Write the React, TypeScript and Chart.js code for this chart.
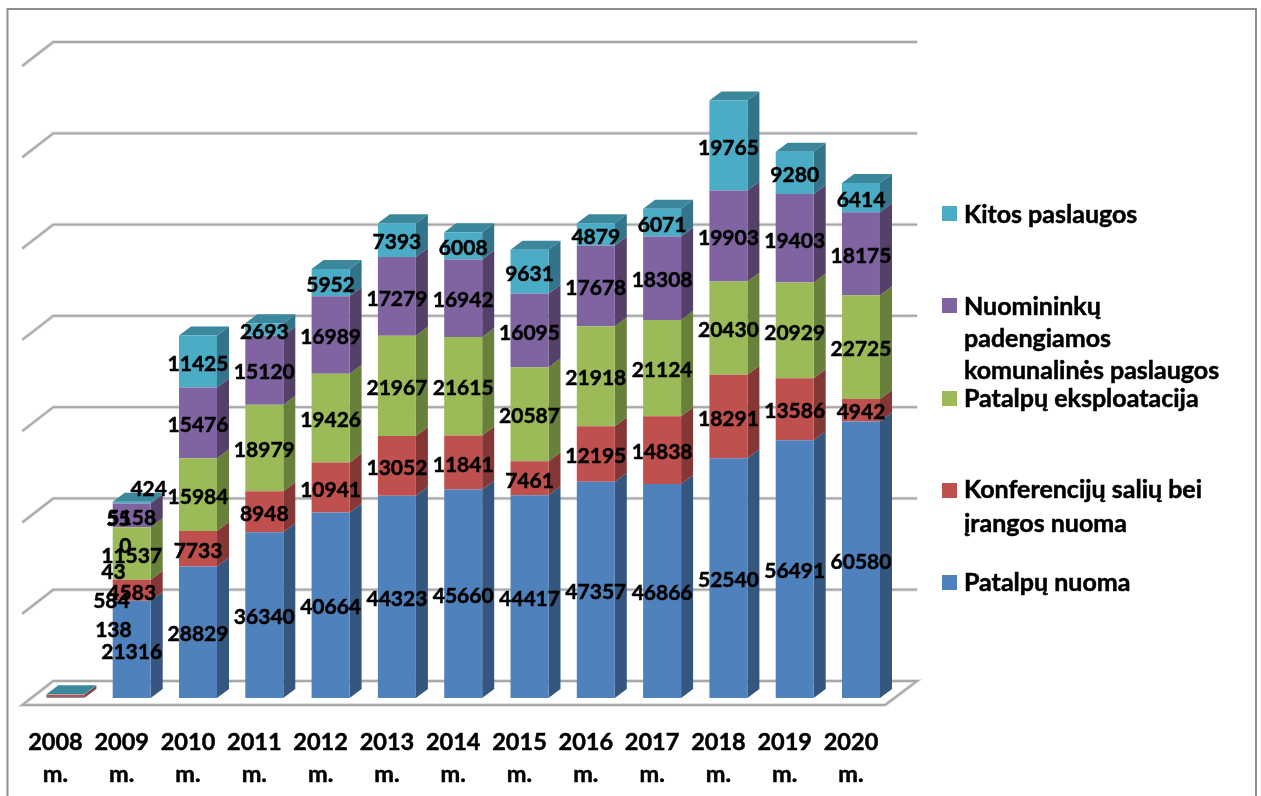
import React, { useEffect, useRef } from "react";
import { Chart, registerables } from "chart.js";

Chart.register(...registerables);

const years = ["2008", "2009", "2010", "2011", "2012", "2013", "2014", "2015", "2016", "2017", "2018", "2019", "2020"];
const tickLabels = years.map((y) => [y, "m."]);

const patalpuNuoma = [138, 21316, 28829, 36340, 40664, 44323, 45660, 44417, 47357, 46866, 52540, 56491, 60580];
const konferenciju = [584, 4583, 7733, 8948, 10941, 13052, 11841, 7461, 12195, 14838, 18291, 13586, 4942];
const eksploatacija = [43, 11537, 15984, 18979, 19426, 21967, 21615, 20587, 21918, 21124, 20430, 20929, 22725];
const komunalines = [0, 5158, 15476, 15120, 16989, 17279, 16942, 16095, 17678, 18308, 19903, 19403, 18175];
const kitos = [55, 424, 11425, 2693, 5952, 7393, 6008, 9631, 4879, 6071, 19765, 9280, 6414];

const seriesNames = [
  "Patalpų nuoma",
  "Konferencijų salių bei įrangos nuoma",
  "Patalpų eksploatacija",
  "Nuomininkų padengiamos komunalinės paslaugos",
  "Kitos paslaugos",
];
const seriesValues = [patalpuNuoma, konferenciju, eksploatacija, komunalines, kitos];
const frontColors = ["#4F81BD", "#C0504D", "#9BBB59", "#8064A2", "#4BACC6"];
const sideColors = ["#34567F", "#843735", "#67803A", "#544069", "#33748A"];
const topColor = "#3B879C";

const legendEntries = [
  { series: 4, box: 206, lines: [["Kitos paslaugos", 215]] },
  { series: 3, box: 298, lines: [["Nuomininkų", 307], ["padengiamos", 339], ["komunalinės paslaugos", 371]] },
  { series: 2, box: 391, lines: [["Patalpų eksploatacija", 399]] },
  { series: 1, box: 483, lines: [["Konferencijų salių bei", 490], ["įrangos nuoma", 524]] },
  { series: 0, box: 575, lines: [["Patalpų nuoma", 583]] },
] as const;

const FONT = "Lato, Carlito, 'Open Sans', sans-serif";
const DX = 12;
const DY = 9;
const GRID_STEP = 20000;
const AXIS_MAX = 140000;

// Label nudges [dx, dy] keyed by "series:category" for the hand-moved labels of the source.
const labelShifts: Record<string, [number, number]> = {
  "0:0": [48, -70],
  "1:0": [46, -97],
  "2:0": [48, -125],
  "3:0": [60, -151],
  "4:0": [53, -178],
  "4:1": [17, -16],
};

const scene = {
  id: "scene",
  beforeDraw(chart: any) {
    const { ctx, chartArea, scales } = chart;
    const y = scales.y;
    const fl = chartArea.left - 10;
    const fr = chartArea.right - 9;
    const bl = chartArea.left + 21;
    const br = chartArea.right + 23;
    ctx.save();
    ctx.fillStyle = "#ffffff";
    ctx.fillRect(0, 0, chart.width, chart.height);

    // outer frame
    ctx.strokeStyle = "#8E8E8E";
    ctx.lineWidth = 2;
    ctx.beginPath();
    ctx.moveTo(7.5, chart.height);
    ctx.lineTo(7.5, 9);
    ctx.lineTo(1256, 9);
    ctx.lineTo(1256, chart.height);
    ctx.stroke();

    // wall grid
    const strokeLine = (pts: number[][]) => {
      for (const [w, c] of [[3.5, "#DADADA"], [1.8, "#A8A8A8"]] as const) {
        ctx.lineWidth = w;
        ctx.strokeStyle = c;
        ctx.beginPath();
        pts.forEach((p, i) => (i ? ctx.lineTo(p[0], p[1]) : ctx.moveTo(p[0], p[1])));
        ctx.stroke();
      }
    };
    for (let v = 0; v <= AXIS_MAX; v += GRID_STEP) {
      const py = y.getPixelForValue(v);
      if (v === 0) {
        strokeLine([[fr, py + 7], [fl, py + 7], [bl, py - 17], [br, py - 17], [fr, py + 7]]);
      } else {
        strokeLine([[fl, py + 7], [bl, py - 17], [br, py - 17]]);
      }
    }
    ctx.restore();
  },
  beforeDatasetsDraw(chart: any) {
    const { ctx } = chart;
    ctx.save();
    seriesValues.forEach((_, s) => {
      chart.getDatasetMeta(s).data.forEach((bar: any) => {
        const xr = bar.x + bar.width / 2;
        const xl = bar.x - bar.width / 2;
        ctx.fillStyle = sideColors[s];
        ctx.beginPath();
        ctx.moveTo(xr, bar.base);
        ctx.lineTo(xr + DX, bar.base - DY);
        ctx.lineTo(xr + DX, bar.y - DY);
        ctx.lineTo(xr, bar.y);
        ctx.closePath();
        ctx.fill();
        if (s === seriesValues.length - 1) {
          ctx.fillStyle = topColor;
          ctx.beginPath();
          ctx.moveTo(xl, bar.y);
          ctx.lineTo(xl + DX, bar.y - DY);
          ctx.lineTo(xr + DX, bar.y - DY);
          ctx.lineTo(xr, bar.y);
          ctx.closePath();
          ctx.fill();
        }
      });
    });
    ctx.restore();
  },
  afterDatasetsDraw(chart: any) {
    const { ctx } = chart;
    ctx.save();
    ctx.font = `bold 21px ${FONT}`;
    ctx.fillStyle = "#000000";
    ctx.strokeStyle = "#000000";
    ctx.lineWidth = 0.5;
    ctx.textAlign = "center";
    ctx.textBaseline = "middle";
    seriesValues.forEach((vals, s) => {
      chart.getDatasetMeta(s).data.forEach((bar: any, c: number) => {
        const [ox, oy] = labelShifts[`${s}:${c}`] ?? [0, 0];
        const lx = bar.x + ox;
        const ly = (bar.y + bar.base) / 2 + 2.5 + oy;
        ctx.strokeText(String(vals[c]), lx, ly);
        ctx.fillText(String(vals[c]), lx, ly);
      });
    });
    ctx.restore();
  },
  afterDraw(chart: any) {
    const { ctx } = chart;
    ctx.save();
    ctx.textAlign = "left";
    ctx.textBaseline = "middle";
    ctx.font = `bold 25px ${FONT}`;
    ctx.lineWidth = 0.5;
    ctx.strokeStyle = "#000000";
    legendEntries.forEach((e) => {
      ctx.fillStyle = frontColors[e.series];
      ctx.fillRect(942, e.box, 15, 15);
      ctx.fillStyle = "#000000";
      e.lines.forEach(([t, ly]) => {
        ctx.strokeText(t as string, 964, ly as number);
        ctx.fillText(t as string, 964, ly as number);
      });
    });
    ctx.restore();
  },
};

export default function App() {
  const ref = useRef<HTMLCanvasElement>(null);
  useEffect(() => {
    if (!ref.current) return;
    const chart = new Chart(ref.current, {
      type: "bar",
      data: {
        labels: tickLabels,
        datasets: seriesValues.map((data, i) => ({
          label: seriesNames[i],
          data,
          backgroundColor: frontColors[i],
          borderWidth: 0,
          categoryPercentage: 1,
          barPercentage: 0.573,
        })),
      },
      options: {
        responsive: false,
        animation: false,
        layout: { padding: { left: 32.25, right: 366.85, top: 59, bottom: 0 } },
        plugins: { legend: { display: false }, tooltip: { enabled: false }, title: { display: false } },
        scales: {
          x: {
            stacked: true,
            grid: { display: false },
            border: { display: false },
            afterFit: (s: any) => {
              s.height = 98;
            },
            ticks: {
              autoSkip: false,
              maxRotation: 0,
              labelOffset: -10,
              padding: 20,
              color: "#000000",
              textStrokeColor: "#000000",
              textStrokeWidth: 0.5,
              font: { family: FONT, weight: "bold", size: 23.5, lineHeight: 1.36 },
            },
          },
          y: { stacked: true, display: false, min: 0, max: AXIS_MAX },
        },
      },
      plugins: [scene],
    } as any);
    return () => chart.destroy();
  }, []);
  return (
    <div style={{ position: "fixed", left: 0, top: 0, width: 1261, height: 796, overflow: "hidden" }}>
      <canvas ref={ref} width={1261} height={796} style={{ display: "block", filter: "blur(0.5px)" }} />
    </div>
  );
}
